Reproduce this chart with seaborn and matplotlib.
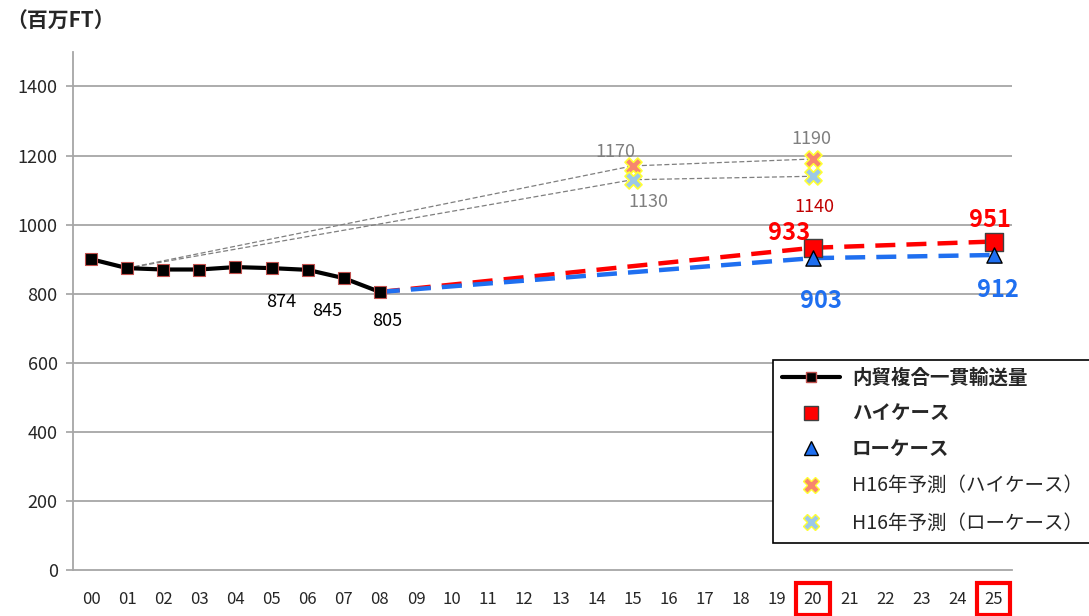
import matplotlib
matplotlib.use("Agg")
import matplotlib.pyplot as plt
from matplotlib.lines import Line2D
import seaborn as sns
import pandas as pd

# --- data ---
year_labels = [f"{i:02d}" for i in range(26)]

actual_x = [0, 1, 2, 3, 4, 5, 6, 7, 8]
actual_y = [900, 874, 870, 870, 877, 874, 869, 845, 805]

high_x = [8, 20, 25]
high_y = [805, 933, 951]
low_x = [8, 20, 25]
low_y = [805, 903, 912]

h16_high_x = [1, 15, 20]
h16_high_y = [874, 1170, 1190]
h16_low_x = [1, 15, 20]
h16_low_y = [874, 1130, 1140]

legend_labels = ["内貿複合一貫輸送量", "ハイケース", "ローケース",
                 "H16年予測（ハイケース）", "H16年予測（ローケース）"]

sns.set_theme(style="white")
plt.rcParams["font.family"] = ["Noto Sans CJK JP", "DejaVu Sans"]

fig = plt.figure(figsize=(10.89, 6.16), dpi=100)
ax = fig.add_axes([0.067, 0.0747, 0.862, 0.841])

grid_c = "#a6a6a6"
for v in range(200, 1500, 200):
    ax.axhline(v, color=grid_c, lw=1.3, zorder=0)

# old forecast (H16) thin grey dashed lines
sns.lineplot(x=h16_high_x, y=h16_high_y, ax=ax, color="#7f7f7f", lw=0.9,
             linestyle=(0, (4, 2)), zorder=1)
sns.lineplot(x=h16_low_x, y=h16_low_y, ax=ax, color="#7f7f7f", lw=0.9,
             linestyle=(0, (4, 2)), zorder=1)
ax.scatter(h16_high_x[1:], h16_high_y[1:], marker="X", s=150, color="#f7866e",
           edgecolor="#ffff33", linewidth=1.2, zorder=4)
ax.scatter(h16_low_x[1:], h16_low_y[1:], marker="X", s=150, color="#9cc8e8",
           edgecolor="#ffff33", linewidth=1.2, zorder=4)

# new forecast dashed lines
sns.lineplot(x=high_x, y=high_y, ax=ax, color="#ff0000", lw=3.2,
             linestyle=(0, (4.5, 2.5)), zorder=2)
sns.lineplot(x=low_x, y=low_y, ax=ax, color="#1f6ff0", lw=3.2,
             linestyle=(0, (4.5, 2.5)), zorder=2)
ax.scatter(high_x[1:], high_y[1:], marker="s", s=150, color="#ff0000",
           edgecolor="#404040", linewidth=1, zorder=5)
ax.scatter(low_x[1:], low_y[1:], marker="^", s=120, color="#1f6ff0",
           edgecolor="#000000", linewidth=1, zorder=5)

# actual series
df_act = pd.DataFrame({"x": actual_x, "y": actual_y})
sns.lineplot(data=df_act, x="x", y="y", ax=ax, color="black", lw=3,
             marker="s", markersize=8, markerfacecolor="black",
             markeredgecolor="#c0504d", markeredgewidth=0.8, zorder=6)

# data labels
def lab(x, y, dx, dy, color, size, weight="normal"):
    ax.annotate(str(y), (x, y), xytext=(dx, -dy), textcoords="offset pixels",
                ha="center", va="center", color=color, fontsize=size,
                fontweight=weight, zorder=7)

lab(actual_x[5], actual_y[5], 10, 34, "black", 13)
lab(actual_x[7], actual_y[7], -17, 33, "black", 13)
lab(actual_x[8], actual_y[8], 7, 29, "black", 13)
lab(h16_high_x[1], h16_high_y[1], -17, -14, "#7f7f7f", 13)
lab(h16_low_x[1], h16_low_y[1], 16, 22, "#7f7f7f", 13)
lab(h16_high_x[2], h16_high_y[2], -2, -20, "#7f7f7f", 13)
lab(h16_low_x[2], h16_low_y[2], 1, 31, "#c00000", 13)
lab(high_x[1], high_y[1], -24, -15, "#ff0000", 17, "bold")
lab(high_x[2], high_y[2], -4, -22, "#ff0000", 17, "bold")
lab(low_x[1], low_y[1], 8, 43, "#1f6ff0", 17, "bold")
lab(low_x[2], low_y[2], 4, 35, "#1f6ff0", 17, "bold")

# axes styling
ax.set_xlim(-0.5, 25.5)
ax.set_ylim(0, 1500)
ax.set_yticks(range(0, 1500, 200))
ax.set_xticks(range(26))
ax.set_xticklabels(year_labels)
ax.set_xticks([i - 0.5 for i in range(27)], minor=True)
ax.tick_params(axis="x", which="major", length=0, labelsize=12, pad=15)
ax.tick_params(axis="x", which="minor", length=5, color=grid_c, direction="out")
ax.tick_params(axis="y", length=5, color=grid_c, labelsize=13, pad=6,
               direction="out", left=True)
ax.set_xlabel("")
ax.set_ylabel("")
for s in ["top", "right"]:
    ax.spines[s].set_visible(False)
for s in ["left", "bottom"]:
    ax.spines[s].set_color(grid_c)
    ax.spines[s].set_linewidth(1.3)

for t in ax.get_xticklabels():
    if t.get_text() in ("20", "25"):
        t.set_bbox(dict(boxstyle="square,pad=0.45", facecolor="none",
                        edgecolor="#ff0000", linewidth=3))

fig.text(0.006, 0.965, "（百万FT）", fontsize=15, fontweight="bold", va="center")

# legend
handles = [
    Line2D([], [], color="black", lw=3, marker="s", markersize=7,
           markerfacecolor="black", markeredgecolor="#c0504d"),
    Line2D([], [], ls="none", marker="s", markersize=10, color="#ff0000",
           markeredgecolor="#404040"),
    Line2D([], [], ls="none", marker="^", markersize=10, color="#1f6ff0",
           markeredgecolor="black"),
    Line2D([], [], ls="none", marker="X", markersize=12, color="#f7866e",
           markeredgecolor="#ffff33"),
    Line2D([], [], ls="none", marker="X", markersize=12, color="#9cc8e8",
           markeredgecolor="#ffff33"),
]
leg = fig.legend(handles, legend_labels, loc="upper left",
                 bbox_to_anchor=(0.71, 0.416), fontsize=14, frameon=True,
                 fancybox=False, edgecolor="black", framealpha=1,
                 labelspacing=0.85, handlelength=3.0, borderpad=0.45,
                 handletextpad=0.6, borderaxespad=0)
leg.get_frame().set_linewidth(1.2)
for i, t in enumerate(leg.get_texts()):
    if i < 3:
        t.set_fontweight("bold")

fig.savefig("out.png", dpi=100)
